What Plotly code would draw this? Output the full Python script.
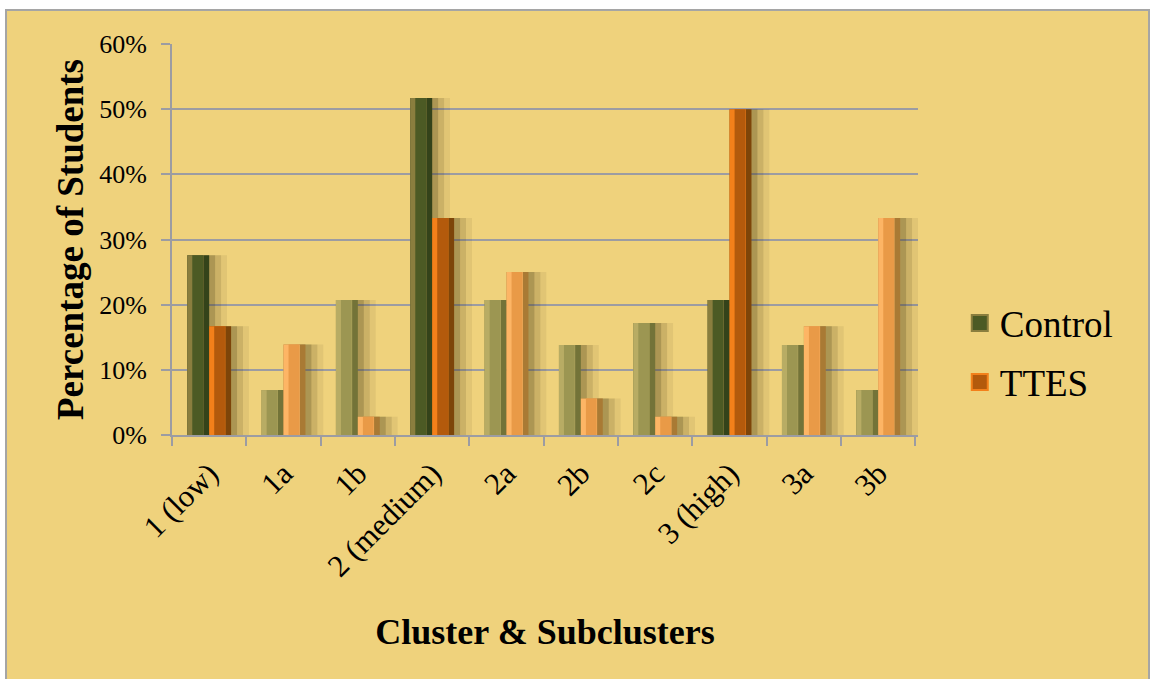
import plotly.graph_objects as go

# Share of students per cluster / subcluster, in percent
categories = ["1 (low)", "1a", "1b", "2 (medium)", "2a", "2b", "2c", "3 (high)", "3a", "3b"]
control = [27.6, 6.9, 20.7, 51.7, 20.7, 13.8, 17.2, 20.7, 13.8, 6.9]
ttes = [16.7, 13.9, 2.8, 33.3, 25.0, 5.6, 2.8, 50.0, 16.7, 33.3]
main_cluster = [True, False, False, True, False, False, False, True, False, False]

FONT = "Liberation Serif"
BG = "#EFD27C"
GRID = "#9C9CA2"

# bevel palettes: (left facet, face, right facet) for main clusters / subclusters
palettes = {
    "Control": {
        True: ("#8A7E3E", "#4C5A24", "#34431A"),
        False: ("#B8AC64", "#9C9652", "#737338"),
    },
    "TTES": {
        True: ("#F3801A", "#B35A0C", "#7D4509"),
        False: ("#FDB565", "#E99A47", "#A97A34"),
    },
}

W = 0.295
series = [("Control", control, -W), ("TTES", ttes, 0.0)]

fig = go.Figure()

# soft drop shadows behind the bars
for name, vals, off in series:
    for shift, alpha in ((0.08, 0.22), (0.16, 0.14), (0.24, 0.08)):
        fig.add_trace(go.Bar(
            x=categories, y=vals, offset=off + shift, width=W,
            marker=dict(color=f"rgba(70,55,20,{alpha})", line=dict(width=0)),
            showlegend=False, hoverinfo="skip",
        ))

# bevelled bars: right facet, left facet, then the face
for name, vals, off in series:
    pal = palettes[name]
    right = [pal[m][2] for m in main_cluster]
    left = [pal[m][0] for m in main_cluster]
    face = [pal[m][1] for m in main_cluster]
    fig.add_trace(go.Bar(
        x=categories, y=vals, offset=off, width=W,
        marker=dict(color=right, line=dict(width=0)),
        showlegend=False, hoverinfo="skip",
    ))
    fig.add_trace(go.Bar(
        x=categories, y=vals, offset=off, width=W * 0.74,
        marker=dict(color=left, line=dict(width=0)),
        showlegend=False, hoverinfo="skip",
    ))
    fig.add_trace(go.Bar(
        x=categories, y=vals, offset=off + W * 0.23, width=W * 0.49,
        marker=dict(color=face, line=dict(width=0)),
        name=name, legendgroup=name, showlegend=False,
    ))

# legend keys with larger square swatches
for name in ("Control", "TTES"):
    left, face, right = palettes[name][True]
    fig.add_trace(go.Scatter(
        x=[None], y=[None], mode="markers", name=name, legendgroup=name,
        marker=dict(symbol="square", size=17, color=face, line=dict(color=left, width=2)),
    ))

# chart frame
fig.add_shape(type="rect", xref="paper", yref="paper",
              x0=-0.2225, x1=1.3097, y0=-0.66, y1=1.087,
              line=dict(color="#A5A5A5", width=2), fillcolor=BG, layer="below")

fig.update_layout(
    width=1150, height=679,
    margin=dict(l=172, r=232, t=44, b=244),
    paper_bgcolor="white",
    plot_bgcolor=BG,
    barmode="overlay",
    font=dict(family=FONT, color="black"),
    showlegend=True,
    legend=dict(
        x=1.056, xanchor="left", y=0.21, yanchor="middle",
        font=dict(family=FONT, size=37, color="black"),
        bgcolor="rgba(0,0,0,0)", traceorder="grouped", tracegroupgap=8,
        itemsizing="trace",
    ),
    xaxis=dict(
        type="category", tickangle=-45, tickson="boundaries",
        ticks="outside", ticklen=9, tickwidth=2, tickcolor=GRID,
        showline=True, linecolor=GRID, linewidth=2,
        showgrid=False, automargin=False,
        ticklabelstandoff=6,
        tickfont=dict(family=FONT, size=31),
        title=dict(text="<b>Cluster & Subclusters</b>", font=dict(family=FONT, size=36), standoff=36),
    ),
    yaxis=dict(
        range=[0, 60], dtick=10, ticksuffix="%",
        ticks="outside", ticklen=9, tickwidth=2, tickcolor=GRID,
        showline=True, linecolor=GRID, linewidth=2,
        showgrid=True, gridcolor=GRID, gridwidth=2,
        zeroline=False, automargin=False,
        ticklabelstandoff=9,
        tickfont=dict(family=FONT, size=26),
        title=dict(text="<b>Percentage of Students</b>", font=dict(family=FONT, size=37), standoff=4),
    ),
)

fig.write_html("out.html")
